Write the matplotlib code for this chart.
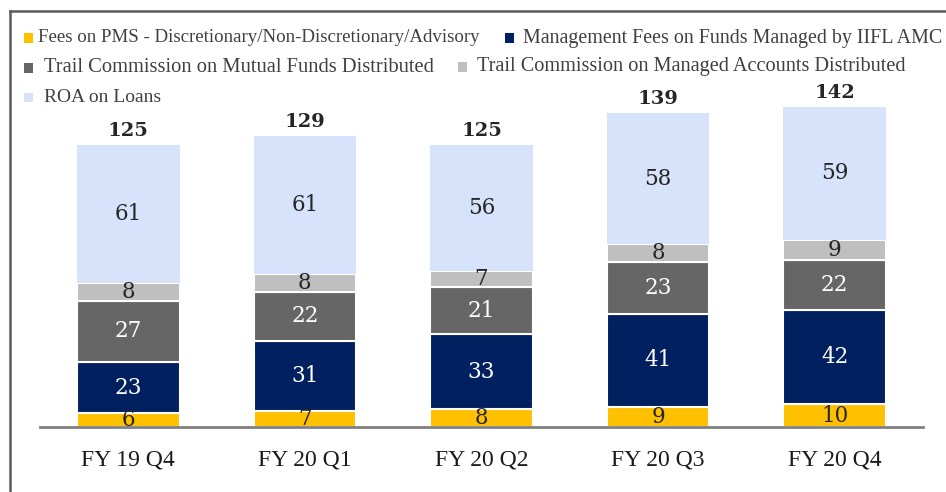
import matplotlib
matplotlib.use("Agg")
import matplotlib.pyplot as plt
from matplotlib.patches import Rectangle
import numpy as np

categories = ["FY 19 Q4", "FY 20 Q1", "FY 20 Q2", "FY 20 Q3", "FY 20 Q4"]
series_names = [
    "Fees on PMS - Discretionary/Non-Discretionary/Advisory",
    "Management Fees on Funds Managed by IIFL AMC",
    "Trail Commission on Mutual Funds Distributed",
    "Trail Commission on Managed Accounts Distributed",
    "ROA on Loans",
]
pms_fees = [6, 7, 8, 9, 10]
mgmt_fees = [23, 31, 33, 41, 42]
trail_mf = [27, 22, 21, 23, 22]
trail_managed = [8, 8, 7, 8, 9]
roa_loans = [61, 61, 56, 58, 59]
totals = [125, 129, 125, 139, 142]

colors = ["#FFC000", "#002060", "#666666", "#BFBFBF", "#D6E3FB"]
label_colors = ["#262626", "white", "white", "#262626", "#262626"]

plt.rcParams['font.family'] = ['Liberation Serif', 'DejaVu Serif']
num_font = ['DejaVu Serif']

fig = plt.figure(figsize=(9.46, 4.92), dpi=100)
ax = fig.add_axes([40/946, 65/492, (923-40)/946, (427-88)/492])

x = np.arange(len(categories))
width = 0.58
bottom = np.zeros(len(categories))
all_series = [pms_fees, mgmt_fees, trail_mf, trail_managed, roa_loans]
for vals, col, lc, name in zip(all_series, colors, label_colors, series_names):
    vals = np.array(vals, dtype=float)
    ec = 'none' if name == "ROA on Loans" else 'white'
    ax.bar(x, vals, width, bottom=bottom, color=col, edgecolor=ec, linewidth=1.5, zorder=2)
    for xi, b, v in zip(x, bottom, vals):
        ax.text(xi, b + v/2, f"{int(v)}", ha='center', va='center', color=lc,
                fontsize=15.5, family=num_font, zorder=3)
    bottom += vals

for xi, t in zip(x, totals):
    ax.text(xi, t + 2.2, f"{t}", ha='center', va='bottom', color='#262626',
            fontsize=14, fontweight='bold', family=num_font)

ax.set_xlim(-0.5, 4.5)
ax.set_ylim(0, 150.2)
ax.set_yticks([])
ax.set_xticks(x)
ax.set_xticklabels(categories, fontsize=17, color='#1a1a1a')
ax.tick_params(axis='x', length=0, pad=16)
for s in ['top', 'right', 'left']:
    ax.spines[s].set_visible(False)
ax.spines['bottom'].set_color('#808080')
ax.spines['bottom'].set_linewidth(2)
ax.spines['bottom'].set_zorder(4)

# Figure frame (top and left lines)
fig.add_artist(plt.Line2D([10/946, 10/946], [0, 1 - 11/492], transform=fig.transFigure,
                          color='#595959', linewidth=1.8))
fig.add_artist(plt.Line2D([10/946, 1], [1 - 11/492, 1 - 11/492], transform=fig.transFigure,
                          color='#595959', linewidth=1.8))

# Legend (manual layout)
legend_pos = [
    (24, 38, 38, 13.6),
    (505, 38, 523, 14.4),
    (24, 68, 44, 14.8),
    (458, 67, 477, 14.6),
    (24, 97, 44, 14.0),
]
for (mx, my, tx, fs), col, name in zip(legend_pos, colors, series_names):
    s = 9
    fig.add_artist(Rectangle((mx/946, 1 - (my + s/2)/492), s/946, s/492,
                             transform=fig.transFigure, facecolor=col, edgecolor='none'))
    fig.text(tx/946, 1 - my/492, name, ha='left', va='center', fontsize=fs, color='#404040')

fig.savefig("out.png", dpi=100)
